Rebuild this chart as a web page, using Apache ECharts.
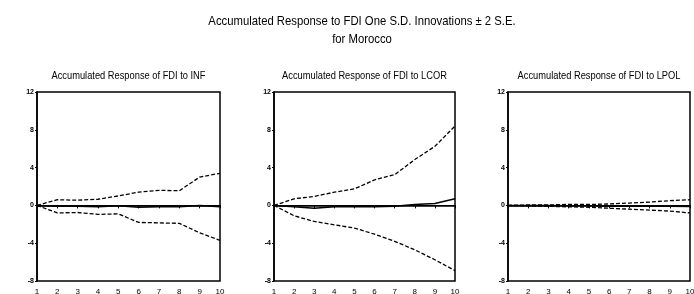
<!DOCTYPE html>
<html>
<head>
<meta charset="utf-8">
<script src="https://cdn.jsdelivr.net/npm/echarts@6/dist/echarts.min.js"></script>
<style>
  html, body { margin: 0; padding: 0; background: #fff; }
  #main { width: 694px; height: 294px; }
</style>
</head>
<body>
<div id="main"></div>
<script>
// periods on the x axis
var periods = ['1', '2', '3', '4', '5', '6', '7', '8', '9', '10'];

// FDI to INF
var infResp  = [0, -0.1, -0.1, -0.15, -0.05, -0.2, -0.15, -0.15, 0.0, -0.15];
var infUpper = [0, 0.6, 0.55, 0.65, 1.0, 1.4, 1.6, 1.55, 3.0, 3.4];
var infLower = [0, -0.8, -0.75, -0.95, -0.9, -1.8, -1.85, -1.9, -2.9, -3.7];

// FDI to LCOR
var lcorResp  = [0, -0.15, -0.3, -0.15, -0.15, -0.15, -0.1, 0.1, 0.2, 0.7];
var lcorUpper = [0, 0.7, 0.95, 1.4, 1.75, 2.7, 3.25, 4.85, 6.25, 8.4];
var lcorLower = [0, -1.1, -1.7, -2.05, -2.4, -3.05, -3.8, -4.7, -5.75, -6.9];

// FDI to LPOL
var lpolResp  = [0, 0, -0.02, -0.05, -0.05, -0.08, -0.1, -0.1, -0.1, -0.12];
var lpolUpper = [0, 0.05, 0.05, 0.1, 0.1, 0.15, 0.25, 0.35, 0.5, 0.6];
var lpolLower = [0, -0.05, -0.1, -0.15, -0.2, -0.3, -0.4, -0.5, -0.6, -0.8];

var mainTitle = ['Accumulated Response to FDI One S.D. Innovations \u00b1 2 S.E.', 'for Morocco'];
var panelTitles = [
  'Accumulated Response of FDI to INF',
  'Accumulated Response of FDI to LCOR',
  'Accumulated Response of FDI to LPOL'
];

var font = '"Liberation Sans", Arial, sans-serif';
var chart = echarts.init(document.getElementById('main'));

var grids = [
  { left: 37, top: 92, width: 183, height: 189 },
  { left: 274, top: 92, width: 181, height: 189 },
  { left: 508, top: 92, width: 182, height: 189 }
];

var panels = [
  [infResp, infUpper, infLower],
  [lcorResp, lcorUpper, lcorLower],
  [lpolResp, lpolUpper, lpolLower]
];

// narrow-looking text (no condensed font available) -> squeeze horizontally
function squeezed(str, cx, cy, size, sx) {
  return {
    type: 'text', x: cx, y: cy, scaleX: sx, silent: true,
    style: { text: str, x: 0, y: 0, align: 'center', verticalAlign: 'middle',
             font: size + 'px ' + font, fill: '#000' }
  };
}

var xAxes = [], yAxes = [], series = [], texts = [];

texts.push(squeezed(mainTitle[0], 362, 21, 13, 0.87));
texts.push(squeezed(mainTitle[1], 362, 39, 13, 0.87));

grids.forEach(function (g, i) {
  g.show = true;
  g.borderColor = '#000';
  g.borderWidth = 1.5;
  g.backgroundColor = '#fff';
  g.containLabel = false;
  g.outerBoundsMode = 'none';

  xAxes.push({
    type: 'category', gridIndex: i, data: periods, boundaryGap: false,
    axisLine: { lineStyle: { color: '#000', width: 1.5 } },
    axisTick: { show: true, inside: false, length: 3, alignWithLabel: true, lineStyle: { color: '#000' } },
    axisLabel: { color: '#000', fontSize: 8, fontFamily: font, margin: 7, interval: 0 },
    splitLine: { show: false }
  });
  yAxes.push({
    type: 'value', gridIndex: i, min: -8, max: 12, interval: 4,
    axisLine: { show: true, lineStyle: { color: '#000', width: 1.5 } },
    axisTick: { show: true, length: 2, lineStyle: { color: '#000' } },
    axisLabel: { color: '#000', fontSize: 7, fontFamily: font, fontWeight: 'bold', margin: 3 },
    splitLine: { show: false }
  });

  var d = panels[i];
  series.push({
    type: 'line', xAxisIndex: i, yAxisIndex: i, data: d[0], symbol: 'none',
    lineStyle: { color: '#000', width: 1.5 },
    markLine: {
      silent: true, symbol: 'none', label: { show: false },
      lineStyle: { color: '#000', width: 1, type: 'solid' },
      data: [{ yAxis: 0 }]
    }
  });
  series.push({
    type: 'line', xAxisIndex: i, yAxisIndex: i, data: d[1], symbol: 'none',
    lineStyle: { color: '#000', width: 1.3, type: [4, 2] }
  });
  series.push({
    type: 'line', xAxisIndex: i, yAxisIndex: i, data: d[2], symbol: 'none',
    lineStyle: { color: '#000', width: 1.3, type: [4, 2] }
  });

  texts.push(squeezed(panelTitles[i], g.left + g.width / 2, 76, 10, 0.93));
});

chart.setOption({
  animation: false,
  backgroundColor: '#fff',
  graphic: texts,
  grid: grids,
  xAxis: xAxes,
  yAxis: yAxes,
  series: series
});
</script>
</body>
</html>
